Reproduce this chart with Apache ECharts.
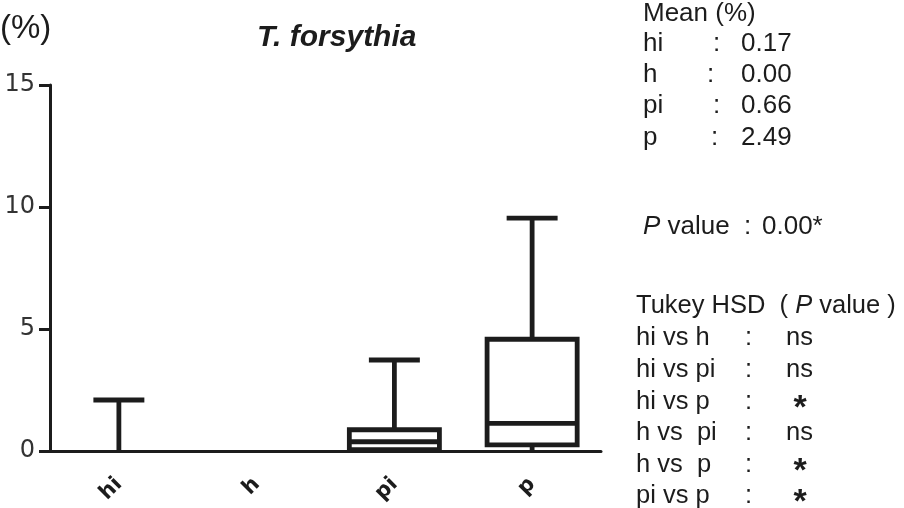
<!DOCTYPE html>
<html>
<head>
<meta charset="utf-8">
<script src="https://cdn.jsdelivr.net/npm/echarts@6/dist/echarts.min.js"></script>
<style>html,body{margin:0;padding:0;background:#fff;}#c{width:904px;height:508px;}</style>
</head>
<body>
<div id="c"></div>
<script>
var categories = ['hi', 'h', 'pi', 'p'];
var minVals = [0, 0, 0, 0];
var q1Vals = [0, 0, 0.06, 0.25];
var medianVals = [0, 0, 0.38, 1.13];
var q3Vals = [0, 0, 0.87, 4.58];
var maxVals = [2.09, 0, 3.73, 9.54];
var yTicks = [0, 5, 10, 15];

var meanLabels = ['hi', 'h', 'pi', 'p'];
var meanValues = ['0.17', '0.00', '0.66', '2.49'];
var pValueText = '0.00*';
var tukeyPairs = ['hi vs h', 'hi vs pi', 'hi vs p', 'h vs  pi', 'h vs  p', 'pi vs p'];
var tukeyResults = ['ns', 'ns', '*', 'ns', '*', '*'];

var INK = '#1c1c1c';
var FONT = 'Liberation Sans, Arial, sans-serif';
var WIDE = 'DejaVu Sans, sans-serif';

var boxData = categories.map(function (c, i) {
  return [i, minVals[i], q1Vals[i], medianVals[i], q3Vals[i], maxVals[i]];
});

function renderBox(params, api) {
  var xi = api.value(0);
  var vMin = api.value(1), vQ1 = api.value(2), vMed = api.value(3), vQ3 = api.value(4), vMax = api.value(5);
  var pMin = api.coord([xi, vMin]);
  var pQ1 = api.coord([xi, vQ1]);
  var pMed = api.coord([xi, vMed]);
  var pQ3 = api.coord([xi, vQ3]);
  var pMax = api.coord([xi, vMax]);
  var band = api.size([1, 0])[0];
  var bw = band * 0.327;
  var cw = band * 0.185;
  var cx = pMed[0];
  var lw = 4.8;
  var st = { stroke: INK, lineWidth: lw, fill: null };
  var children = [];
  if (vMax > vQ3) {
    children.push({ type: 'line', shape: { x1: cx, y1: pQ3[1], x2: cx, y2: pMax[1] }, style: st });
    children.push({ type: 'line', shape: { x1: cx - cw, y1: pMax[1], x2: cx + cw, y2: pMax[1] }, style: st });
  }
  if (vQ1 > vMin) {
    children.push({ type: 'line', shape: { x1: cx, y1: pQ1[1], x2: cx, y2: pMin[1] }, style: st });
  }
  if (vQ3 > vQ1) {
    children.push({ type: 'rect', shape: { x: cx - bw, y: pQ3[1], width: 2 * bw, height: pQ1[1] - pQ3[1] },
      style: { stroke: INK, lineWidth: lw, fill: '#fff' } });
    children.push({ type: 'line', shape: { x1: cx - bw, y1: pMed[1], x2: cx + bw, y2: pMed[1] }, style: st });
  }
  return { type: 'group', children: children };
}

function txt(x, y, text, extra) {
  var s = { text: text, fontSize: 25, fontFamily: FONT, fill: INK, verticalAlign: 'middle', align: 'left',
    rich: { i: { fontStyle: 'italic', fontSize: 25, fontFamily: FONT, fill: INK } } };
  if (extra) for (var k in extra) s[k] = extra[k];
  return { type: 'text', x: x, y: y, style: s, silent: true };
}

var graphics = [];
graphics.push(txt(0, 29, '(%)', { fontSize: 33 }));
graphics.push(txt(643, 14, 'Mean (%)', { fontSize: 26 }));
var meanY = [44, 75, 106, 138];
var colonX = [713, 707, 713, 711];
meanLabels.forEach(function (l, i) {
  graphics.push(txt(643, meanY[i], l, { fontSize: 26 }));
  graphics.push(txt(colonX[i], meanY[i], ':', { fontSize: 26 }));
  graphics.push(txt(741, meanY[i], meanValues[i], { fontSize: 26 }));
});
graphics.push(txt(643, 227, '{i|P} value', { fontSize: 26, rich: { i: { fontStyle: 'italic', fontSize: 26, fontFamily: FONT, fill: INK } } }));
graphics.push(txt(744, 227, ':', { fontSize: 26 }));
graphics.push(txt(762, 227, pValueText, { fontSize: 26 }));
graphics.push(txt(636, 306, 'Tukey HSD  ( {i|P} value )', { fontSize: 25.5, rich: { i: { fontStyle: 'italic', fontSize: 25.5, fontFamily: FONT, fill: INK } } }));
var tukeyY = [338, 370, 402, 433, 465, 496];
tukeyPairs.forEach(function (p, i) {
  graphics.push(txt(636, tukeyY[i], p, { fontSize: 25.5 }));
  graphics.push(txt(745, tukeyY[i], ':', { fontSize: 25.5 }));
  if (tukeyResults[i] === '*') {
    graphics.push(txt(800, tukeyY[i] + 7, tukeyResults[i], { align: 'center', fontSize: 34, fontWeight: 'bold' }));
  } else {
    graphics.push(txt(786, tukeyY[i], tukeyResults[i], { fontSize: 25.5 }));
  }
});

var chart = echarts.init(document.getElementById('c'), null, { renderer: 'canvas' });
chart.setOption({
  animation: false,
  backgroundColor: '#fff',
  title: {
    text: 'T. forsythia',
    left: 252, top: 18,
    textStyle: { fontSize: 30, fontStyle: 'italic', fontWeight: 'bold', fontFamily: FONT, color: INK }
  },
  grid: { left: 50, top: 85, right: 303, bottom: 57, containLabel: false },
  xAxis: {
    type: 'category',
    data: categories,
    boundaryGap: true,
    axisLine: { lineStyle: { color: INK, width: 3 } },
    axisTick: { alignWithLabel: true, length: 11, lineStyle: { color: INK, width: 3 } },
    axisLabel: { rotate: 45, margin: 30, fontSize: 21, fontWeight: 'bold', fontFamily: WIDE, color: INK },
    splitLine: { show: false }
  },
  yAxis: {
    type: 'value',
    min: yTicks[0], max: yTicks[yTicks.length - 1], interval: yTicks[1] - yTicks[0],
    axisLine: { show: true, lineStyle: { color: INK, width: 3 } },
    axisTick: { show: true, length: 11, lineStyle: { color: INK, width: 3 } },
    axisLabel: { margin: 15, fontSize: 24, fontFamily: WIDE, color: '#333' },
    splitLine: { show: false }
  },
  series: [{
    type: 'custom',
    renderItem: renderBox,
    encode: { x: 0, y: [1, 2, 3, 4, 5] },
    data: boxData,
    z: 3
  }],
  graphic: graphics
});
</script>
</body>
</html>
